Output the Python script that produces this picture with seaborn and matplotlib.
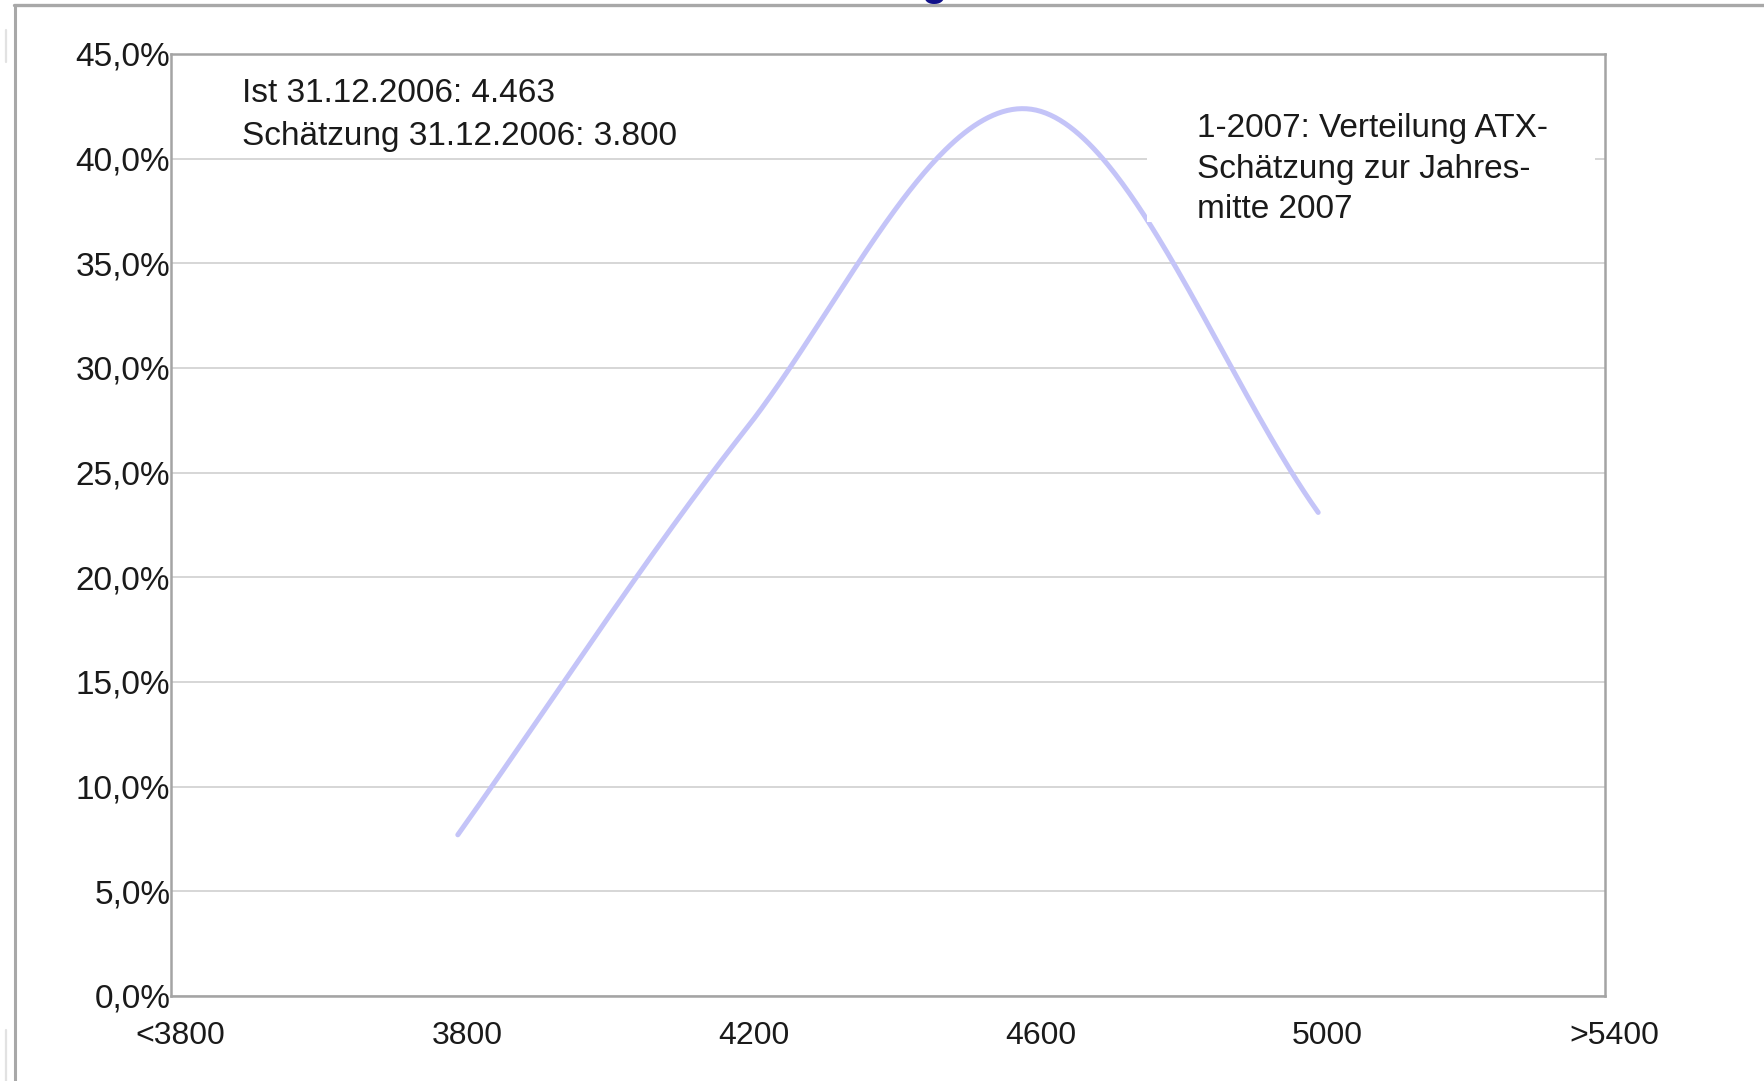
import numpy as np
import pandas as pd
import matplotlib
matplotlib.use("Agg")
import matplotlib.pyplot as plt
import seaborn as sns
from matplotlib.lines import Line2D
from matplotlib.patches import Rectangle
from matplotlib.ticker import FuncFormatter, FixedLocator
from matplotlib.transforms import ScaledTranslation

# ATX level buckets on the x axis
categories = ["<3800", "3800", "4200", "4600", "5000", ">5400"]
# buckets that received a share of the estimates, and their share in percent
estimate_levels = ["3800", "4200", "4600", "5000"]
share_pct = [7.7, 27.0, 42.36, 23.1]
y_ticks = [0, 5, 10, 15, 20, 25, 30, 35, 40, 45]

note_actual = "Ist 31.12.2006: 4.463\nSchätzung 31.12.2006: 3.800"
note_title = "1-2007: Verteilung ATX-\nSchätzung zur Jahres-\nmitte 2007"


def smoothed_line(xk, yk, per_seg=120):
    """Catmull-Rom style smoothed line through the knots (as in office charts)."""
    xk = np.asarray(xk, float)
    yk = np.asarray(yk, float)
    n = len(xk)
    # tangents: central differences inside, one-sided at the ends
    mx = np.empty(n)
    my = np.empty(n)
    mx[1:-1] = (xk[2:] - xk[:-2]) / 2
    my[1:-1] = (yk[2:] - yk[:-2]) / 2
    mx[0], my[0] = xk[1] - xk[0], yk[1] - yk[0]
    mx[-1], my[-1] = xk[-1] - xk[-2], yk[-1] - yk[-2]
    t = np.linspace(0, 1, per_seg, endpoint=False)
    h00 = 2 * t ** 3 - 3 * t ** 2 + 1
    h10 = t ** 3 - 2 * t ** 2 + t
    h01 = -2 * t ** 3 + 3 * t ** 2
    h11 = t ** 3 - t ** 2
    xs, ys = [], []
    for i in range(n - 1):
        xs.append(h00 * xk[i] + h10 * mx[i] + h01 * xk[i + 1] + h11 * mx[i + 1])
        ys.append(h00 * yk[i] + h10 * my[i] + h01 * yk[i + 1] + h11 * my[i + 1])
    xs.append([xk[-1]])
    ys.append([yk[-1]])
    return np.concatenate(xs), np.concatenate(ys)


sns.set_theme(style="white")
plt.rcParams["font.family"] = ["Liberation Sans", "DejaVu Sans"]

W, H = 1765, 1081
fig = plt.figure(figsize=(W / 100, H / 100), dpi=100)
fig.patch.set_facecolor("white")

L, R, T, B = 171, 1605, 54, 996
ax = fig.add_axes([L / W, 1 - B / H, (R - L) / W, (B - T) / H])

positions = [categories.index(c) for c in estimate_levels]
xs, ys = smoothed_line(positions, share_pct)
curve = pd.DataFrame({"pos": xs, "share": ys})
sns.lineplot(data=curve, x="pos", y="share", ax=ax, estimator=None, sort=False,
             color="#c4c4f8", linewidth=3.6, zorder=3)

ax.set_xlim(0, len(categories) - 1)
ax.set_ylim(0, 45)
ax.set_xlabel("")
ax.set_ylabel("")

ax.xaxis.set_major_locator(FixedLocator(range(len(categories))))
ax.set_xticklabels(categories)
ax.yaxis.set_major_locator(FixedLocator(y_ticks))
ax.yaxis.set_major_formatter(
    FuncFormatter(lambda v, _: f"{v:.1f}%".replace(".", ",")))

ax.yaxis.grid(True, color="#d6d6d6", linewidth=1.4)
ax.xaxis.grid(False)
ax.set_axisbelow(True)

for side, sp in ax.spines.items():
    sp.set_visible(True)
    sp.set_color("#a4a4a4")
    sp.set_linewidth(1.8)
    sp.set_zorder(2)

ax.tick_params(axis="y", direction="out", length=2.5, width=1.0,
               color="#a4a4a4", pad=-2.0, labelsize=24, labelcolor="#1a1a1a")
ax.tick_params(axis="x", direction="inout", length=8.5, width=1.0,
               color="#a4a4a4", pad=13.5, labelsize=23, labelcolor="#1a1a1a")
shift = ScaledTranslation(0.09, 0, fig.dpi_scale_trans)
for lab in ax.get_xticklabels():
    lab.set_transform(lab.get_transform() + shift)

# annotation texts
ax.text((242 - L) / (R - L), (B - 78) / (B - T), note_actual,
        transform=ax.transAxes, ha="left", va="top", fontsize=24,
        linespacing=1.48, color="#1a1a1a", zorder=5)

ax.add_patch(Rectangle(((1147 - L) / (R - L), (B - 222) / (B - T)),
                       (1595 - 1147) / (R - L), (222 - 96) / (B - T),
                       transform=ax.transAxes, facecolor="white",
                       edgecolor="none", zorder=4))
ax.text((1197 - L) / (R - L), (B - 113) / (B - T), note_title,
        transform=ax.transAxes, ha="left", va="top", fontsize=24,
        linespacing=1.40, color="#1a1a1a", zorder=5)

# window frame around the chart
fig.add_artist(Line2D([14 / W, 1], [1 - 5 / H, 1 - 5 / H],
                      transform=fig.transFigure, color="#a8a8a8", lw=2.4))
fig.add_artist(Line2D([15 / W, 15 / W], [0, 1 - 5 / H],
                      transform=fig.transFigure, color="#a8a8a8", lw=2.2))
fig.add_artist(Line2D([6 / W, 6 / W], [1 - 30 / H, 1 - 62 / H],
                      transform=fig.transFigure, color="#e2e2e2", lw=1.6))
fig.add_artist(Line2D([6 / W, 6 / W], [0, 1 - 1030 / H],
                      transform=fig.transFigure, color="#e2e2e2", lw=1.6))
fig.text(934 / W, 1 + 5.5 / H, "g", ha="center", va="baseline",
         fontsize=30, fontweight="bold", color="#10108a")

fig.savefig("out.png", dpi=100, facecolor="white")
